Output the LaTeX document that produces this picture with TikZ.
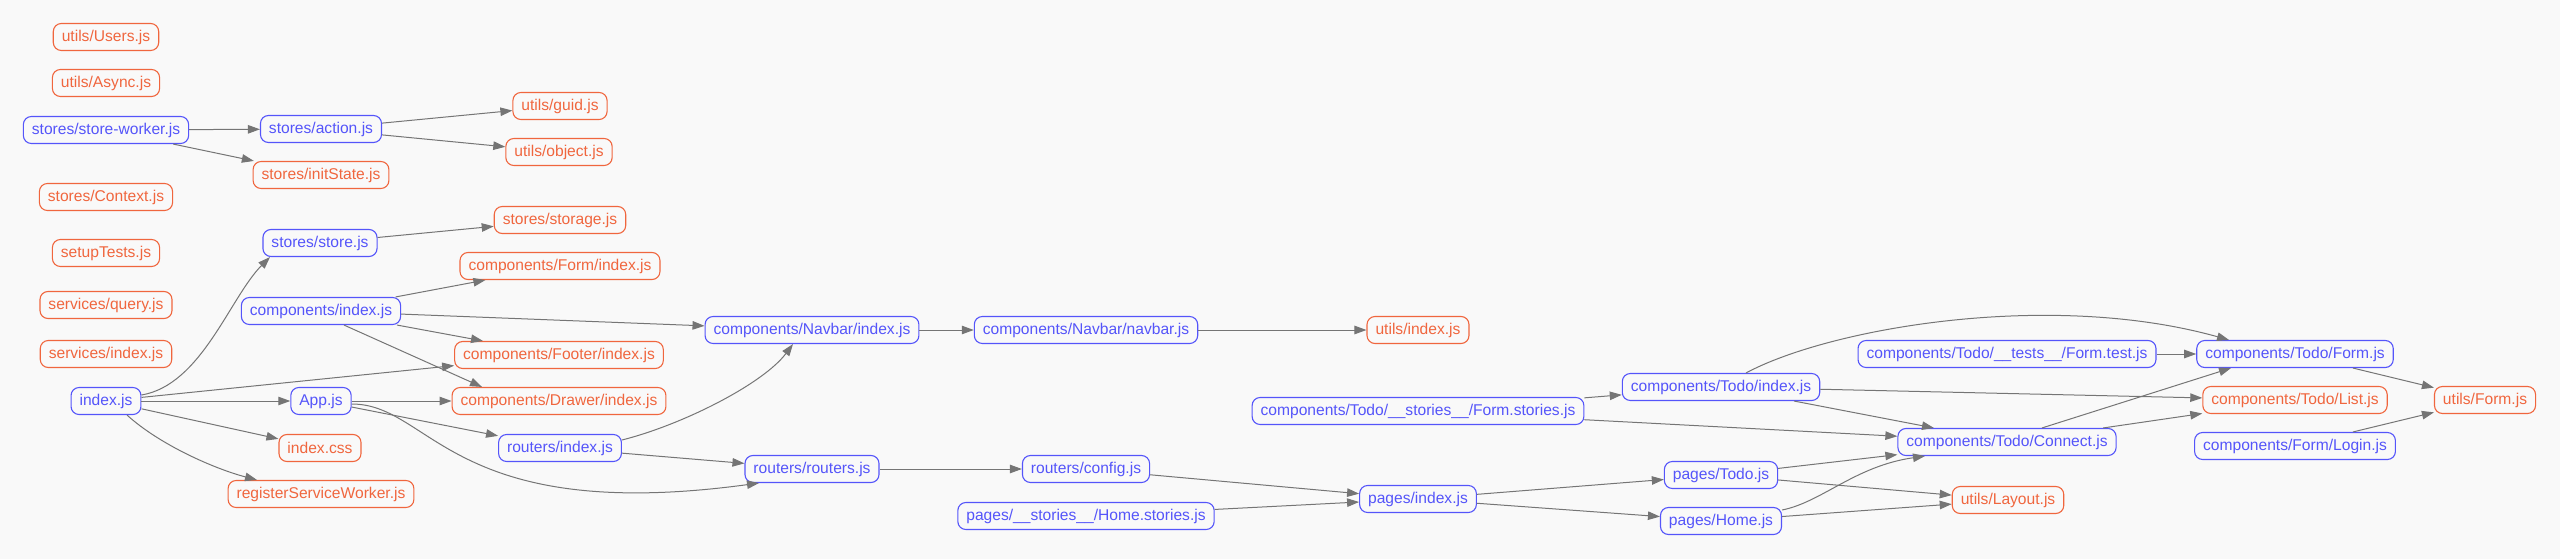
\documentclass[tikz,border=0pt]{standalone}
\usepackage{fontspec}
\setmainfont{Liberation Sans}
\usetikzlibrary{arrows.meta}
\definecolor{bnd}{RGB}{85,85,250}
\definecolor{ond}{RGB}{240,102,62}
\definecolor{edg}{RGB}{117,117,117}
\definecolor{bgc}{RGB}{249,249,249}
\begin{document}
\begin{tikzpicture}[x=1pt,y=-1pt,
  box/.style={rectangle, rounded corners=8pt, line width=1.1pt, minimum height=27pt, inner xsep=8.5pt, inner ysep=0pt, fill=bgc, font=\fontsize{15.6}{18}\selectfont},
  bbox/.style={box, draw=bnd, text=bnd},
  obox/.style={box, draw=ond, text=ond},
  dep/.style={draw=edg, line width=1pt, -{Triangle[length=12pt,width=8.5pt]}}]
\fill[bgc] (0,0) rectangle (2560,559);
\useasboundingbox (0,0) rectangle (2560,559);
% rank 1
\node[obox] (users) at (106,37) {utils/Users.js};
\node[obox] (async) at (106,83) {utils/Async.js};
\node[bbox] (storeworker) at (106,130) {stores/store-worker.js};
\node[obox] (context) at (106,197) {stores/Context.js};
\node[obox] (setuptests) at (106,253) {setupTests.js};
\node[obox] (query) at (106,305) {services/query.js};
\node[obox] (servindex) at (106,354) {services/index.js};
\node[bbox] (index) at (106,401) {index.js};
% rank 2
\node[bbox] (action) at (321,129) {stores/action.js};
\node[obox] (initstate) at (321,175) {stores/initState.js};
\node[bbox] (store) at (320,243) {stores/store.js};
\node[bbox] (compindex) at (321,311) {components/index.js};
\node[bbox] (app) at (321,401) {App.js};
\node[obox] (indexcss) at (320,448) {index.css};
\node[obox] (rsw) at (321,494) {registerServiceWorker.js};
% rank 3
\node[obox] (guid) at (560,106) {utils/guid.js};
\node[obox] (object) at (559,152) {utils/object.js};
\node[obox] (storage) at (560,220) {stores/storage.js};
\node[obox] (formindex) at (560,266) {components/Form/index.js};
\node[obox] (footer) at (559,355) {components/Footer/index.js};
\node[obox] (drawer) at (559,401) {components/Drawer/index.js};
\node[bbox] (routindex) at (560,448) {routers/index.js};
% rank 4
\node[bbox] (navindex) at (812,330) {components/Navbar/index.js};
\node[bbox] (routers) at (812,469) {routers/routers.js};
% rank 5
\node[bbox] (navbar) at (1086,330) {components/Navbar/navbar.js};
\node[bbox] (config) at (1086,469) {routers/config.js};
\node[bbox] (homestories) at (1086,516) {pages/\_\_stories\_\_/Home.stories.js};
% rank 6
\node[obox] (utilsindex) at (1418,330) {utils/index.js};
\node[bbox] (formstories) at (1418,411) {components/Todo/\_\_stories\_\_/Form.stories.js};
\node[bbox] (pagesindex) at (1418,499) {pages/index.js};
% rank 7
\node[bbox] (todoindex) at (1721,387) {components/Todo/index.js};
\node[bbox] (pagestodo) at (1721,475) {pages/Todo.js};
\node[bbox] (pageshome) at (1721,521) {pages/Home.js};
% rank 8
\node[bbox] (formtest) at (2007,354) {components/Todo/\_\_tests\_\_/Form.test.js};
\node[bbox] (connect) at (2007,442) {components/Todo/Connect.js};
\node[obox] (layout) at (2008,500) {utils/Layout.js};
% rank 9
\node[bbox] (todoform) at (2295,354) {components/Todo/Form.js};
\node[obox] (list) at (2295,400) {components/Todo/List.js};
\node[bbox] (login) at (2295,446) {components/Form/Login.js};
% rank 10
\node[obox] (utilsform) at (2485,400) {utils/Form.js};
% edges
\draw[dep] (storeworker) -- (action);
\draw[dep] (storeworker) -- (initstate);
\draw[dep] (action) -- (guid);
\draw[dep] (action) -- (object);
\draw[dep] (store) -- (storage);
\draw[dep] ([yshift=6pt]index.east) .. controls +(60,-10) and +(-40,40) .. ([xshift=-50pt]store.south);
\draw[dep] (index) -- (footer);
\draw[dep] (index) -- (app);
\draw[dep] (index) -- (indexcss);
\draw[dep] ([xshift=21pt]index.south) .. controls +(33,30) and +(-42,-11) .. ([xshift=-64pt]rsw.north);
\draw[dep] (compindex) -- (formindex);
\draw[dep] (compindex) -- (navindex);
\draw[dep] (compindex) -- (footer);
\draw[dep] ([xshift=23pt]compindex.south) -- ([xshift=-77pt]drawer.north);
\draw[dep] (app) -- (drawer);
\draw[dep] (app) -- (routindex);
\draw[dep] ([yshift=-3pt]app.east) .. controls +(80,0) and +(-309,42) .. ([xshift=-53pt]routers.south);
\draw[dep] ([yshift=8pt]routindex.east) .. controls +(60,-15) and +(-30,40) .. ([xshift=-19pt]navindex.south);
\draw[dep] (routindex) -- (routers);
\draw[dep] (navindex) -- (navbar);
\draw[dep] (navbar) -- (utilsindex);
\draw[dep] (routers) -- (config);
\draw[dep] (config) -- (pagesindex);
\draw[dep] (homestories) -- (pagesindex);
\draw[dep] (pagesindex) -- (pagestodo);
\draw[dep] (pagesindex) -- (pageshome);
\draw[dep] (pagestodo) -- (connect);
\draw[dep] (pagestodo) -- (layout);
\draw[dep] ([yshift=11pt]pageshome.east) .. controls +(40,-8) and +(-70,10) .. ([xshift=-82pt]connect.south);
\draw[dep] (pageshome) -- (layout);
\draw[dep] (formstories) -- (todoindex);
\draw[dep] (formstories) -- (connect);
\draw[dep] ([xshift=25pt]todoindex.north) .. controls +(84,-45) and +(-179,-50) .. ([xshift=-66pt]todoform.north);
\draw[dep] (todoindex) -- (list);
\draw[dep] (todoindex) -- (connect);
\draw[dep] (formtest) -- (todoform);
\draw[dep] ([xshift=35pt]connect.north) -- ([xshift=-64pt]todoform.south);
\draw[dep] (connect) -- (list);
\draw[dep] (todoform) -- (utilsform);
\draw[dep] (login) -- (utilsform);
\end{tikzpicture}
\end{document}
